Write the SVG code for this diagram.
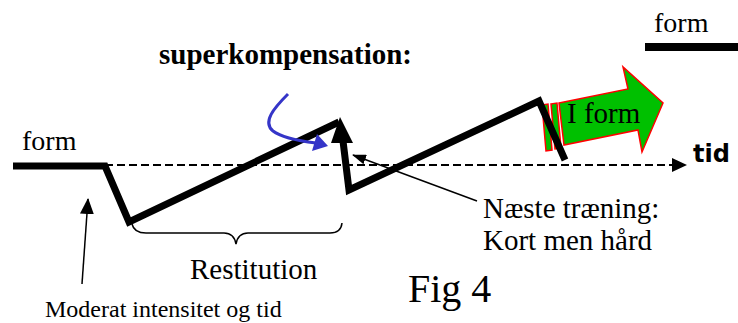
<svg xmlns="http://www.w3.org/2000/svg" width="738" height="323" viewBox="0 0 738 323">
<style>
.t{font-family:"Liberation Serif","Times New Roman",serif;fill:#000}
.thick{fill:none;stroke:#000;stroke-width:7;stroke-linejoin:miter;stroke-linecap:butt}
.thin{fill:none;stroke:#000;stroke-width:1.5}
.grn{fill:#00c000;stroke:#ff0000;stroke-width:1.5;stroke-linejoin:miter}
</style>
<defs>
<marker id="ah" markerWidth="14" markerHeight="10" refX="13" refY="5" orient="auto" markerUnits="userSpaceOnUse">
<path d="M0,0 L14,5 L0,10 Z" fill="#000"/>
</marker>
<marker id="ah2" markerWidth="16" markerHeight="14" refX="15" refY="7" orient="auto" markerUnits="userSpaceOnUse">
<path d="M0,0 L16,7 L0,14 Z" fill="#000"/>
</marker>
</defs>
<rect width="738" height="323" fill="#fff"/>

<g id="arrow-iform">
<polygon class="grn" points="542,105 548,104 552,150 546,151"/>
<polygon class="grn" points="551,104 557,103 561,148 555,149"/>
<polygon class="grn" points="559,103 628,89 623,67 663,103 642,152 638,130 564,145"/>
<text class="t" x="567" y="123" font-size="29">I form</text>
</g>

<g id="connectors">
<line x1="105" y1="165" x2="676" y2="165" stroke="#000" stroke-width="2" stroke-dasharray="8,4"/>
<path d="M672,158 L687,165 L672,172 Z" fill="#000"/>
<polyline class="thick" points="13,166 105,166 129,222 339,122"/>
<polyline class="thick" points="343,141 349,190 539,101 565,160"/>
<path d="M340,117 L353,143 L331,143 Z" fill="#000"/>
<path d="M288,94 C274,108 262,122 273,131 C282,138 300,141 316,143" fill="none" stroke="#3535c8" stroke-width="3"/>
<path d="M328,146 L317,134 L312,151 Z" fill="#3535c8"/>
<line class="thin" x1="477" y1="201" x2="353" y2="155" marker-end="url(#ah)"/>
<line class="thin" x1="82" y1="284" x2="88" y2="199" marker-end="url(#ah2)"/>
<path class="thin" d="M132,224 Q134,233 146,233 L224,233 Q234,233 236,244 Q238,233 248,233 L330,233 Q341,233 342,223"/>
<line x1="645" y1="47" x2="738" y2="47" stroke="#000" stroke-width="8"/>
</g>

<g id="labels">
<text class="t" x="654" y="32" font-size="28">form</text>
<text class="t" x="159" y="64" font-size="29" font-weight="bold">superkompensation:</text>
<text class="t" x="22" y="150" font-size="28">form</text>
<text x="693" y="162" font-family="DejaVu Sans, sans-serif" font-weight="bold" font-size="24">tid</text>
<text class="t" x="483" y="218" font-size="29">Næste træning:</text>
<text class="t" x="483" y="250" font-size="29">Kort men hård</text>
<text class="t" x="190" y="279" font-size="29">Restitution</text>
<text class="t" x="408" y="302" font-size="40">Fig 4</text>
<text class="t" x="45" y="317" font-size="24">Moderat intensitet og tid</text>
</g>
</svg>
